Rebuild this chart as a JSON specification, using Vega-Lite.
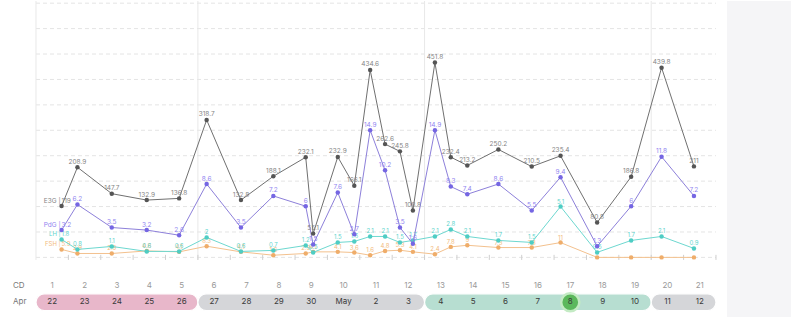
{
  "$schema": "https://vega.github.io/schema/vega-lite/v6.json",
  "width": 791,
  "height": 317,
  "autosize": {"type": "fit", "contains": "padding"},
  "padding": 0,
  "background": "#ffffff",
  "config": {"view": {"stroke": null}, "text": {"font": "Inter"}},
  "datasets": {
    "e3g": [
      {"t": 0.79, "v": 119}, {"t": 1.28, "v": 208.9}, {"t": 2.34, "v": 147.7}, {"t": 3.42, "v": 132.9},
      {"t": 4.42, "v": 136.8}, {"t": 5.27, "v": 318.7}, {"t": 6.33, "v": 132.8}, {"t": 7.33, "v": 188.1},
      {"t": 8.33, "v": 232.1}, {"t": 8.56, "v": 55.1}, {"t": 9.32, "v": 232.9}, {"t": 9.83, "v": 166.1},
      {"t": 10.32, "v": 434.6}, {"t": 10.78, "v": 262.6}, {"t": 11.24, "v": 245.8}, {"t": 11.64, "v": 108.8},
      {"t": 12.32, "v": 451.8}, {"t": 12.81, "v": 232.4}, {"t": 13.32, "v": 213.2}, {"t": 14.28, "v": 250.2},
      {"t": 15.31, "v": 210.5}, {"t": 16.2, "v": 235.4}, {"t": 17.33, "v": 80.8}, {"t": 18.38, "v": 186.8},
      {"t": 19.32, "v": 439.8}, {"t": 20.32, "v": 211}
    ],
    "pdg": [
      {"t": 0.79, "v": 3.2}, {"t": 1.28, "v": 6.2}, {"t": 2.34, "v": 3.5}, {"t": 3.42, "v": 3.2},
      {"t": 4.42, "v": 2.6}, {"t": 5.27, "v": 8.6}, {"t": 6.33, "v": 3.5}, {"t": 7.33, "v": 7.2},
      {"t": 8.33, "v": 6}, {"t": 8.56, "v": 1.5}, {"t": 9.32, "v": 7.6}, {"t": 9.83, "v": 2.7},
      {"t": 10.32, "v": 14.9}, {"t": 10.78, "v": 10.2}, {"t": 11.24, "v": 3.5}, {"t": 11.64, "v": 1.6},
      {"t": 12.32, "v": 14.9}, {"t": 12.81, "v": 8.3}, {"t": 13.32, "v": 7.4}, {"t": 14.28, "v": 8.6},
      {"t": 15.31, "v": 5.5}, {"t": 16.2, "v": 9.4}, {"t": 17.33, "v": 1.3}, {"t": 18.38, "v": 6},
      {"t": 19.32, "v": 11.8}, {"t": 20.32, "v": 7.2}
    ],
    "lh": [
      {"t": 0.79, "v": 1.8}, {"t": 1.28, "v": 0.8}, {"t": 2.34, "v": 1.1}, {"t": 3.42, "v": 0.6},
      {"t": 4.42, "v": 0.6}, {"t": 5.27, "v": 2}, {"t": 6.33, "v": 0.6}, {"t": 7.33, "v": 0.7},
      {"t": 8.33, "v": 1.2}, {"t": 8.56, "v": 0.5}, {"t": 9.32, "v": 1.5}, {"t": 9.83, "v": 1.6},
      {"t": 10.32, "v": 2.1}, {"t": 10.78, "v": 2.1}, {"t": 11.24, "v": 1.5}, {"t": 11.64, "v": 1.7},
      {"t": 12.32, "v": 2.1}, {"t": 12.81, "v": 2.8}, {"t": 13.32, "v": 2.1}, {"t": 14.28, "v": 1.7},
      {"t": 15.31, "v": 1.5}, {"t": 16.2, "v": 5.1}, {"t": 17.33, "v": 0.5}, {"t": 18.38, "v": 1.7},
      {"t": 19.32, "v": 2.1}, {"t": 20.32, "v": 0.9}
    ],
    "fsh": [
      {"t": 0.79, "v": 5.9}, {"t": 1.28, "v": 2.9}, {"t": 2.34, "v": 2.9}, {"t": 3.42, "v": 4.8},
      {"t": 4.42, "v": 4.1}, {"t": 5.27, "v": 8.3}, {"t": 6.33, "v": 4.1}, {"t": 7.33, "v": 1.6},
      {"t": 8.33, "v": 2.9}, {"t": 8.56, "v": 4.1}, {"t": 9.32, "v": 4.1}, {"t": 9.83, "v": 3.6},
      {"t": 10.32, "v": 1.6}, {"t": 10.78, "v": 4.8}, {"t": 11.24, "v": 5.3}, {"t": 11.64, "v": 4.1},
      {"t": 12.32, "v": 2.4}, {"t": 12.81, "v": 7.8}, {"t": 13.32, "v": 9}, {"t": 14.28, "v": 7.3},
      {"t": 15.31, "v": 7.3}, {"t": 16.2, "v": 11}, {"t": 17.33, "v": 0}, {"t": 18.38, "v": 0},
      {"t": 19.32, "v": 0}, {"t": 20.32, "v": 0}
    ],
    "days": [
      {"cd": 1, "date": "22"}, {"cd": 2, "date": "23"}, {"cd": 3, "date": "24"}, {"cd": 4, "date": "25"},
      {"cd": 5, "date": "26"}, {"cd": 6, "date": "27"}, {"cd": 7, "date": "28"}, {"cd": 8, "date": "29"},
      {"cd": 9, "date": "30"}, {"cd": 10, "date": "May"}, {"cd": 11, "date": "2"}, {"cd": 12, "date": "3"},
      {"cd": 13, "date": "4"}, {"cd": 14, "date": "5"}, {"cd": 15, "date": "6"}, {"cd": 16, "date": "7"},
      {"cd": 17, "date": "8"}, {"cd": 18, "date": "9"}, {"cd": 19, "date": "10"}, {"cd": 20, "date": "11"},
      {"cd": 21, "date": "12"}
    ],
    "phases": [
      {"phase": "period", "start": 0, "end": 5},
      {"phase": "follicular", "start": 5, "end": 12},
      {"phase": "fertile", "start": 12, "end": 19},
      {"phase": "luteal", "start": 19, "end": 21}
    ],
    "levels": [
      {"k": 0}, {"k": 1}, {"k": 2}, {"k": 3}, {"k": 4}, {"k": 5}, {"k": 6}, {"k": 7}, {"k": 8}, {"k": 9}, {"k": 10}
    ]
  },
  "resolve": {"scale": {"y": "independent"}},
  "layer": [
    {
      "layer": [
        {
          "data": {"values": [{"panel": "side"}]},
          "mark": {"type": "rect", "color": "#f5f5f7"},
          "encoding": {
            "x": {"datum": 21.34, "type": "quantitative", "scale": {"domain": [-1.1118, 23.317], "nice": false, "zero": false}, "axis": null},
            "x2": {"datum": 23.317},
            "y": {"datum": -2.345, "type": "quantitative", "scale": {"domain": [-2.345, 10.086], "nice": false, "zero": false}, "axis": null},
            "y2": {"datum": 10.086}
          }
        },
        {
          "data": {"name": "levels"},
          "mark": {"type": "rule", "color": "#e4e4e4", "strokeWidth": 1, "strokeDash": [4, 3]},
          "encoding": {
            "x": {"datum": 0, "type": "quantitative"},
            "x2": {"datum": 21},
            "y": {"field": "k", "type": "quantitative"}
          }
        },
        {
          "data": {"name": "phases"},
          "mark": {"type": "rule", "color": "#e8e8e8", "strokeWidth": 1},
          "encoding": {
            "x": {"field": "start", "type": "quantitative"},
            "y": {"datum": -0.1, "type": "quantitative"},
            "y2": {"datum": 10.086}
          }
        },
        {
          "data": {"name": "days"},
          "mark": {"type": "rule", "color": "#cfcfcf", "strokeWidth": 1},
          "encoding": {
            "x": {"field": "cd", "type": "quantitative"},
            "y": {"datum": -0.1, "type": "quantitative"},
            "y2": {"datum": 0.1}
          }
        },
        {
          "data": {"name": "phases"},
          "mark": {"type": "rect", "cornerRadius": 8.4, "stroke": "#ffffff", "strokeWidth": 1.2},
          "encoding": {
            "x": {"field": "start", "type": "quantitative"},
            "x2": {"field": "end"},
            "y": {"datum": -1.435, "type": "quantitative"},
            "y2": {"datum": -2.094},
            "color": {"field": "phase", "type": "nominal", "legend": null,
              "scale": {"domain": ["period", "follicular", "fertile", "luteal"], "range": ["#e8b7ca", "#d5d6d9", "#b7ded1", "#d5d6d9"]}}
          }
        },
        {
          "data": {"name": "days"},
          "transform": [{"filter": "datum.cd === 17"}],
          "mark": {"type": "point", "shape": "circle", "filled": true, "size": 330, "color": "#5cb85c", "stroke": "#c4ebc4", "strokeWidth": 2.5, "opacity": 1},
          "encoding": {
            "x": {"field": "cd", "type": "quantitative"},
            "xOffset": {"value": -16.19},
            "y": {"datum": -1.765, "type": "quantitative"}
          }
        },
        {
          "data": {"name": "days"},
          "mark": {"type": "text", "fontSize": 8, "color": "#9a9a9a", "dx": -16.19, "align": "center", "baseline": "middle"},
          "encoding": {
            "x": {"field": "cd", "type": "quantitative"},
            "y": {"datum": -1.118, "type": "quantitative"},
            "text": {"field": "cd", "type": "quantitative"}
          }
        },
        {
          "data": {"name": "days"},
          "mark": {"type": "text", "fontSize": 8, "color": "#3a3a3a", "dx": -16.19, "align": "center", "baseline": "middle"},
          "encoding": {
            "x": {"field": "cd", "type": "quantitative"},
            "y": {"datum": -1.765, "type": "quantitative"},
            "text": {"field": "date", "type": "nominal"}
          }
        },
        {
          "data": {"values": [{"label": "CD"}]},
          "mark": {"type": "text", "fontSize": 8, "color": "#777777", "align": "left", "baseline": "middle"},
          "encoding": {
            "x": {"datum": -0.71, "type": "quantitative"},
            "y": {"datum": -1.118, "type": "quantitative"},
            "text": {"field": "label", "type": "nominal"}
          }
        },
        {
          "data": {"values": [{"label": "Apr"}]},
          "mark": {"type": "text", "fontSize": 8, "color": "#777777", "align": "left", "baseline": "middle"},
          "encoding": {
            "x": {"datum": -0.71, "type": "quantitative"},
            "y": {"datum": -1.765, "type": "quantitative"},
            "text": {"field": "label", "type": "nominal"}
          }
        }
      ]
    },
    {
      "data": {"name": "fsh"},
      "encoding": {
        "x": {"field": "t", "type": "quantitative"},
        "y": {"field": "v", "type": "quantitative", "scale": {"domain": [-44.3, 190.5], "nice": false, "zero": false}, "axis": null}
      },
      "layer": [
        {"mark": {"type": "line", "color": "#f3c18e", "strokeWidth": 1}},
        {"mark": {"type": "point", "filled": true, "size": 20, "color": "#efad6a", "opacity": 1}},
        {"transform": [{"filter": "datum.t > 1 && datum.v > 0"}],
         "mark": {"type": "text", "fontSize": 6, "baseline": "bottom", "dy": -2, "color": "#f2bb7e"},
         "encoding": {"text": {"field": "v", "type": "quantitative", "format": "~g"}}},
        {"transform": [{"filter": "datum.t < 1"}],
         "mark": {"type": "text", "fontSize": 6, "baseline": "bottom", "dy": -2, "align": "left", "dx": 0, "color": "#f2bb7e"},
         "encoding": {"text": {"field": "v", "type": "quantitative", "format": "~g"}}},
        {"transform": [{"filter": "datum.t < 1"}],
         "mark": {"type": "text", "fontSize": 6, "baseline": "bottom", "dy": -2, "align": "right", "dx": -1, "color": "#f2bb7e", "text": "FSH |"}}
      ]
    },
    {
      "data": {"name": "lh"},
      "encoding": {
        "x": {"field": "t", "type": "quantitative"},
        "y": {"field": "v", "type": "quantitative", "scale": {"domain": [-5.98, 25.72], "nice": false, "zero": false}, "axis": null}
      },
      "layer": [
        {"mark": {"type": "line", "color": "#6dd8d0", "strokeWidth": 1}},
        {"mark": {"type": "point", "filled": true, "size": 20, "color": "#4ecdc4", "opacity": 1}},
        {"transform": [{"filter": "datum.t > 1"}],
         "mark": {"type": "text", "fontSize": 6, "baseline": "bottom", "dy": -2, "color": "#5fd5ce"},
         "encoding": {"text": {"field": "v", "type": "quantitative", "format": "~g"}}},
        {"transform": [{"filter": "datum.t < 1"}],
         "mark": {"type": "text", "fontSize": 6, "baseline": "bottom", "dy": -2, "align": "left", "dx": 0, "color": "#5fd5ce"},
         "encoding": {"text": {"field": "v", "type": "quantitative", "format": "~g"}}},
        {"transform": [{"filter": "datum.t < 1"}],
         "mark": {"type": "text", "fontSize": 6, "baseline": "bottom", "dy": -2, "align": "right", "dx": -1, "color": "#5fd5ce", "text": "LH |"}}
      ]
    },
    {
      "data": {"name": "pdg"},
      "encoding": {
        "x": {"field": "t", "type": "quantitative"},
        "y": {"field": "v", "type": "quantitative", "scale": {"domain": [-6.986, 30.047], "nice": false, "zero": false}, "axis": null}
      },
      "layer": [
        {"mark": {"type": "line", "color": "#8d80da", "strokeWidth": 1}},
        {"mark": {"type": "point", "filled": true, "size": 20, "color": "#7566e3", "opacity": 1}},
        {"transform": [{"filter": "datum.t > 1"}],
         "mark": {"type": "text", "fontSize": 6.5, "baseline": "bottom", "dy": -2.5, "color": "#9185f0"},
         "encoding": {"text": {"field": "v", "type": "quantitative", "format": "~g"}}},
        {"transform": [{"filter": "datum.t < 1"}],
         "mark": {"type": "text", "fontSize": 6.5, "baseline": "bottom", "dy": -2.5, "align": "left", "dx": 0, "color": "#9185f0"},
         "encoding": {"text": {"field": "v", "type": "quantitative", "format": "~g"}}},
        {"transform": [{"filter": "datum.t < 1"}],
         "mark": {"type": "text", "fontSize": 6.5, "baseline": "bottom", "dy": -2.5, "align": "right", "dx": -1, "color": "#9185f0", "text": "PdG |"}}
      ]
    },
    {
      "data": {"name": "e3g"},
      "encoding": {
        "x": {"field": "t", "type": "quantitative"},
        "y": {"field": "v", "type": "quantitative", "scale": {"domain": [-138.2, 594.4], "nice": false, "zero": false}, "axis": null}
      },
      "layer": [
        {"mark": {"type": "line", "color": "#707070", "strokeWidth": 1}},
        {"mark": {"type": "point", "filled": true, "size": 20, "color": "#555555", "opacity": 1}},
        {"transform": [{"filter": "datum.t > 1"}],
         "mark": {"type": "text", "fontSize": 6.5, "baseline": "bottom", "dy": -2.5, "color": "#858585"},
         "encoding": {"text": {"field": "v", "type": "quantitative", "format": "~g"}}},
        {"transform": [{"filter": "datum.t < 1"}],
         "mark": {"type": "text", "fontSize": 6.5, "baseline": "bottom", "dy": -2.5, "align": "left", "dx": 0, "color": "#858585"},
         "encoding": {"text": {"field": "v", "type": "quantitative", "format": "~g"}}},
        {"transform": [{"filter": "datum.t < 1"}],
         "mark": {"type": "text", "fontSize": 6.5, "baseline": "bottom", "dy": -2.5, "align": "right", "dx": -1, "color": "#858585", "text": "E3G |"}}
      ]
    }
  ]
}
